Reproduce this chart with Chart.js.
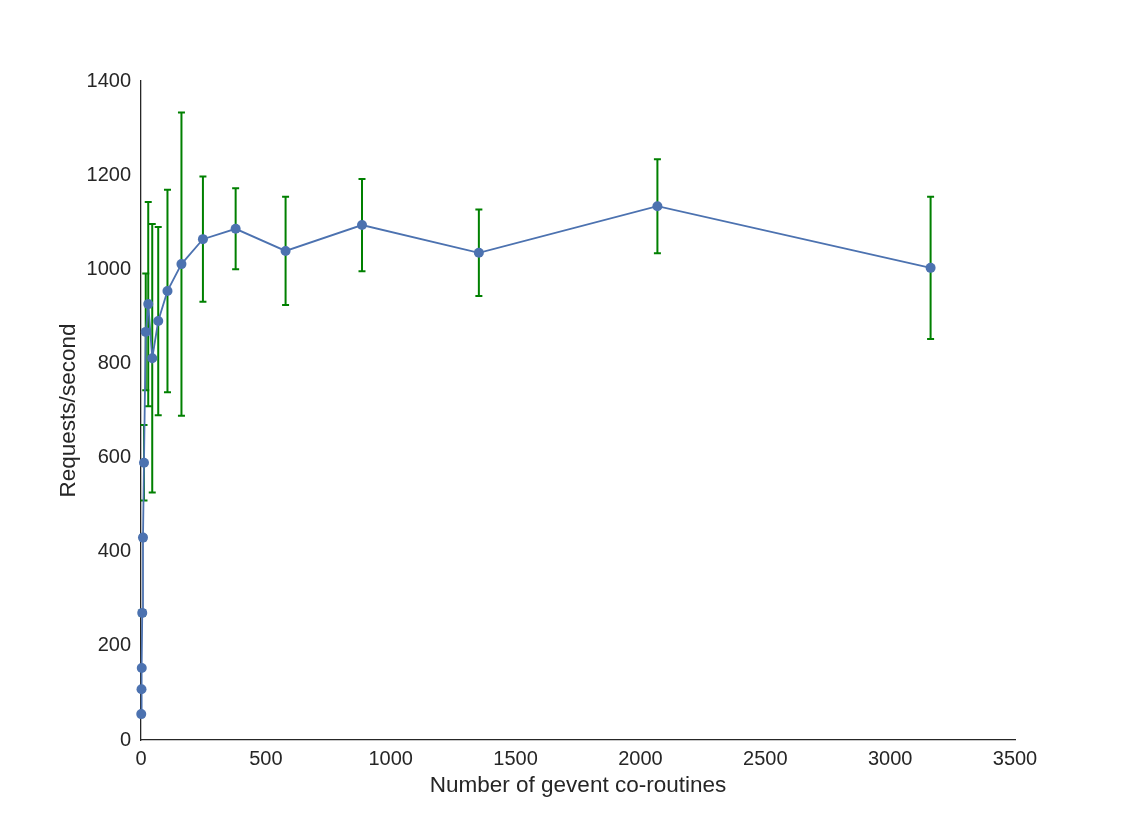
<!DOCTYPE html>
<html>
<head>
    <title>Requests per second vs gevent co-routines</title>
    <script src="https://cdn.jsdelivr.net/npm/chart.js@4/dist/chart.umd.min.js"></script>
    <style>
        body { margin: 0; background: #fff; }
        canvas { display: block; }
    </style>
</head>
<body>
    <canvas id="chart" width="1127" height="823"></canvas>

    <script>
        // Data
        const coroutines = [1, 2, 3, 5, 8, 12, 19, 29, 45, 69, 106, 162, 248, 379, 579, 885, 1353, 2068, 3162];
        const requestsPerSec = [55, 108, 153, 270, 430, 589, 867, 926, 811, 890, 954, 1011, 1064, 1086, 1039, 1094, 1035, 1134, 1003];
        const stdDev = [2, 3, 4, 6, 5, 80, 124, 217, 285, 200, 215, 322, 133, 86, 115, 98, 92, 100, 151];

        const xTicks = [0, 500, 1000, 1500, 2000, 2500, 3000, 3500];
        const yTicks = [0, 200, 400, 600, 800, 1000, 1200, 1400];

        const textColor = '#262626';
        const fontFamily = '"Liberation Sans", Arial, sans-serif';

        // green error bars, drawn under the points
        const errorBars = {
            id: 'errorBars',
            beforeDatasetsDraw(chart) {
                const ctx = chart.ctx;
                const xs = chart.scales.x, ys = chart.scales.y;
                ctx.save();
                ctx.strokeStyle = '#008000';
                ctx.lineWidth = 2;
                coroutines.forEach((c, i) => {
                    const px = xs.getPixelForValue(c);
                    const top = ys.getPixelForValue(requestsPerSec[i] + stdDev[i]);
                    const bot = ys.getPixelForValue(requestsPerSec[i] - stdDev[i]);
                    ctx.beginPath();
                    ctx.moveTo(px, top); ctx.lineTo(px, bot);
                    ctx.moveTo(px - 3.5, top); ctx.lineTo(px + 3.5, top);
                    ctx.moveTo(px - 3.5, bot); ctx.lineTo(px + 3.5, bot);
                    ctx.stroke();
                });
                ctx.restore();
            }
        };

        const ctx = document.getElementById('chart').getContext('2d');
        new Chart(ctx, {
            type: 'line',
            data: {
                datasets: [{
                    data: coroutines.map((c, i) => ({ x: c, y: requestsPerSec[i] })),
                    borderColor: '#4c72b0',
                    backgroundColor: '#4c72b0',
                    borderWidth: 1.8,
                    pointRadius: 5,
                    pointBorderWidth: 0,
                    pointHoverRadius: 5,
                    tension: 0,
                    clip: false
                }]
            },
            options: {
                responsive: false,
                animation: false,
                events: [],
                layout: { padding: { top: 81, right: 112, left: 0, bottom: 0 } },
                plugins: { legend: { display: false }, tooltip: { enabled: false } },
                scales: {
                    x: {
                        type: 'linear',
                        min: 0, max: 3500,
                        afterBuildTicks: s => { s.ticks = xTicks.map(v => ({ value: v })); },
                        afterFit: s => { s.height = 83; },
                        grid: { display: false, drawTicks: false },
                        border: { display: true, color: textColor, width: 1.3 },
                        ticks: {
                            color: textColor, font: { family: fontFamily, size: 20 }, padding: 7, maxRotation: 0,
                            callback: v => String(v)
                        },
                        title: {
                            display: true, text: 'Number of gevent co-routines', color: textColor,
                            font: { family: fontFamily, size: 22.5 }, padding: { top: 0, bottom: 24 }
                        }
                    },
                    y: {
                        type: 'linear',
                        min: 0, max: 1400,
                        afterBuildTicks: s => { s.ticks = yTicks.map(v => ({ value: v })); },
                        afterFit: s => { s.width = 141; },
                        grid: { display: false, drawTicks: false },
                        border: { display: true, color: textColor, width: 1.3 },
                        ticks: {
                            color: textColor, font: { family: fontFamily, size: 20 }, padding: 10,
                            callback: v => String(v)
                        },
                        title: {
                            display: true, text: 'Requests/second', color: textColor,
                            font: { family: fontFamily, size: 22.5 }, padding: { top: 55, bottom: 0 }
                        }
                    }
                }
            },
            plugins: [errorBars]
        });
    </script>
</body>
</html>
